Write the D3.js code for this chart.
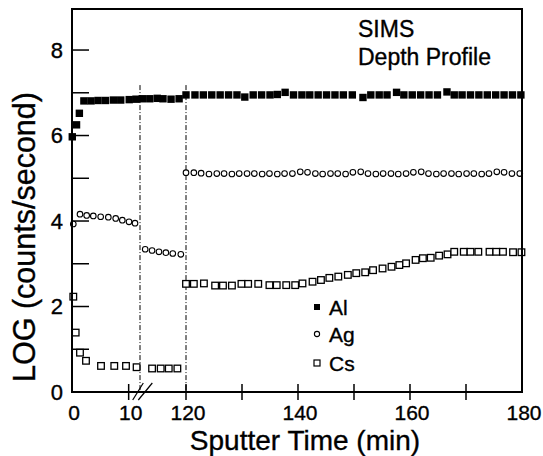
<!DOCTYPE html>
<html>
<head>
<meta charset="utf-8">
<script src="https://cdn.jsdelivr.net/npm/d3@7"></script>
<style>
  body { margin: 0; background: #fff; }
  svg { display: block; }
  text { font-family: "Liberation Sans", Arial, Helvetica, sans-serif; fill: #000; stroke: #000; stroke-width: 0.35px; }
</style>
</head>
<body>
<svg id="chart" width="543" height="456"></svg>
<script>
// SIMS depth profile: log10 of count rate vs sputter time (broken time axis)

// Al (filled squares)
const alTime = [0.05, 0.8, 1.3, 2.1, 3.35, 4.6, 5.9, 7.3, 8.6, 10.1, 11.3,
  112.4, 113.7, 115.0, 116.0, 117.4, 118.8,
  120.0, 121.6, 123.1, 124.6, 126.1, 127.6, 129.1, 130.5, 132.0, 133.5, 135.0,
  136.3, 137.7, 139.2, 140.7, 142.1, 143.6, 145.1, 146.6, 148.1, 149.7, 151.6,
  153.0, 154.5, 155.9, 157.6, 158.9, 160.4, 161.9, 163.4, 164.9, 166.6, 167.9,
  169.3, 170.8, 172.3, 173.8, 175.3, 176.8, 178.3, 179.8];
const alLog = [5.97, 6.25, 6.52, 6.81, 6.81, 6.82, 6.82, 6.83, 6.83, 6.84, 6.85,
  6.86, 6.86, 6.87, 6.86, 6.85, 6.86,
  6.95, 6.95, 6.95, 6.95, 6.95, 6.95, 6.95, 6.90, 6.95, 6.95, 6.95,
  6.96, 7.01, 6.95, 6.95, 6.95, 6.95, 6.95, 6.95, 6.95, 6.95, 6.89,
  6.95, 6.95, 6.95, 7.01, 6.95, 6.95, 6.95, 6.95, 6.95, 7.02, 6.95,
  6.95, 6.95, 6.95, 6.95, 6.95, 6.95, 6.95, 6.95];

// Ag (open circles)
const agTime = [0.23, 1.41, 2.59, 3.76, 5.06, 6.41, 7.71, 8.88, 10.06, 11.12,
  112.9, 114.1, 115.3, 116.5, 117.7, 119.1,
  120.0, 121.4, 122.7, 124.1, 125.5, 126.8, 128.2, 129.5, 130.9, 132.2, 133.6,
  134.9, 136.3, 137.6, 139.0, 140.4, 141.7, 143.1, 144.4, 145.8, 147.1, 148.5,
  149.8, 151.2, 152.5, 153.9, 155.2, 156.6, 157.9, 159.3, 160.6, 162.0, 163.3,
  164.7, 166.0, 167.4, 168.7, 170.1, 171.4, 172.8, 174.1, 175.5, 176.8, 178.2, 179.6];
const agLog = [3.93, 4.16, 4.13, 4.12, 4.10, 4.09, 4.06, 4.02, 3.98, 3.95,
  3.34, 3.31, 3.28, 3.26, 3.24, 3.22,
  5.13, 5.13, 5.12, 5.10, 5.11, 5.11, 5.10, 5.11, 5.11, 5.11, 5.10,
  5.11, 5.10, 5.11, 5.11, 5.15, 5.14, 5.11, 5.10, 5.11, 5.11, 5.10,
  5.14, 5.15, 5.11, 5.10, 5.11, 5.11, 5.10, 5.11, 5.14, 5.15, 5.11,
  5.10, 5.11, 5.11, 5.10, 5.11, 5.11, 5.10, 5.11, 5.15, 5.14, 5.11, 5.11];

// Cs (open squares)
const csTime = [0.23, 0.65, 1.41, 2.47, 5.12, 7.46, 9.53, 11.4,
  114.1, 115.6, 117.0, 118.5,
  120.0, 121.4, 123.2, 125.2, 126.6, 128.2, 129.9, 131.1, 132.9, 134.9, 136.2,
  137.9, 139.5, 140.8, 142.6, 144.1, 145.6, 147.2, 148.9, 150.4, 152.0, 153.4,
  155.1, 156.7, 158.1, 159.3, 161.0, 162.3, 163.7, 165.2, 166.7, 167.9, 169.6,
  170.8, 172.2, 174.2, 175.4, 176.6, 178.4, 179.9];
const csLog = [2.23, 1.39, 0.92, 0.73, 0.61, 0.61, 0.61, 0.58,
  0.55, 0.55, 0.55, 0.55,
  2.53, 2.53, 2.54, 2.49, 2.49, 2.49, 2.53, 2.53, 2.53, 2.50, 2.50,
  2.50, 2.50, 2.54, 2.58, 2.62, 2.67, 2.70, 2.74, 2.78, 2.80, 2.85,
  2.89, 2.93, 2.97, 3.01, 3.09, 3.13, 3.14, 3.19, 3.22, 3.28, 3.28,
  3.28, 3.28, 3.28, 3.28, 3.28, 3.27, 3.27];

const xTicks = [0, 10, 120, 130, 140, 150, 160, 170];
const xLabelValues = [0, 10, 120, 140, 160, 180];
const yTicks = [1, 2, 3, 4, 5, 6, 7, 8];
const yLabelValues = [0, 2, 4, 6, 8];
const breakTimes = [12, 120];   // dashed markers: axis break and 120 min
const legendNames = ["Al", "Ag", "Cs"];
const titleLines = ["SIMS", "Depth Profile"];

const svg = d3.select("#chart");
const plotL = 72, plotR = 522, plotT = 9, plotB = 392;

// piecewise time scale: 0–12 min, break, 112–180 min
const x = d3.scaleLinear()
  .domain([0, 12, 112, 120, 180])
  .range([plotL, 140, 140, plotR - 336, plotR]);
const y = d3.scaleLinear().domain([0, 8.96]).range([plotB, plotT]);

// dashed guide lines
svg.append("g").selectAll("line").data(breakTimes).join("line")
  .attr("x1", d => x(d)).attr("x2", d => x(d))
  .attr("y1", y(7.18)).attr("y2", plotB)
  .attr("stroke", "#000").attr("stroke-width", 1)
  .attr("stroke-dasharray", "5,2,1,2");

// y ticks (inside)
svg.append("g").selectAll("line").data(yTicks).join("line")
  .attr("x1", plotL).attr("x2", plotL + 17)
  .attr("y1", d => y(d)).attr("y2", d => y(d))
  .attr("stroke", "#000").attr("stroke-width", 1.5);

svg.append("g").selectAll("text").data(yLabelValues).join("text")
  .attr("x", 63).attr("y", d => y(d) + 7.5)
  .attr("text-anchor", "end").attr("font-size", 22)
  .text(d => d);

// x ticks (crossing the axis)
svg.append("g").selectAll("line").data(xTicks).join("line")
  .attr("x1", d => x(d)).attr("x2", d => x(d))
  .attr("y1", d => d === 0 ? plotB : plotB - 8).attr("y2", d => d === 0 ? plotB : plotB + 8)
  .attr("stroke", "#000").attr("stroke-width", 1.5);

svg.append("g").selectAll("text").data(xLabelValues).join("text")
  .attr("x", d => x(d) + 2).attr("y", 420)
  .attr("text-anchor", "middle").attr("font-size", 21)
  .text(d => d);

// axis break slashes
const slash = [[132.7, 400, 143.3, 383], [138.3, 400, 152.3, 383]];
svg.append("g").selectAll("line").data(slash).join("line")
  .attr("x1", d => d[0]).attr("y1", d => d[1])
  .attr("x2", d => d[2]).attr("y2", d => d[3])
  .attr("stroke", "#000").attr("stroke-width", 1.2);

// data markers
const cs = csTime.map((t, i) => [t, csLog[i]]);
const ag = agTime.map((t, i) => [t, agLog[i]]);
const al = alTime.map((t, i) => [t, alLog[i]]);

svg.append("g").selectAll("rect").data(cs).join("rect")
  .attr("x", d => x(d[0]) - 3.3).attr("y", d => y(d[1]) - 3.3)
  .attr("width", 6.6).attr("height", 6.6)
  .attr("fill", "#fff").attr("stroke", "#000").attr("stroke-width", 1.3);

svg.append("g").selectAll("circle").data(ag).join("circle")
  .attr("cx", d => x(d[0])).attr("cy", d => y(d[1])).attr("r", 2.8)
  .attr("fill", "#fff").attr("stroke", "#000").attr("stroke-width", 1.1);

svg.append("g").selectAll("rect").data(al).join("rect")
  .attr("x", d => x(d[0]) - 3.7).attr("y", d => y(d[1]) - 3.7)
  .attr("width", 7.4).attr("height", 7.4)
  .attr("fill", "#000");

// frame
svg.append("rect")
  .attr("x", plotL).attr("y", plotT)
  .attr("width", plotR - plotL).attr("height", plotB - plotT)
  .attr("fill", "none").attr("stroke", "#000").attr("stroke-width", 2);

// legend
const legY = [307, 334, 363];
const leg = svg.append("g");
leg.append("rect").attr("x", 314).attr("y", legY[0] - 3).attr("width", 6).attr("height", 6).attr("fill", "#000");
leg.append("circle").attr("cx", 317).attr("cy", legY[1]).attr("r", 2.6)
  .attr("fill", "#fff").attr("stroke", "#000").attr("stroke-width", 1.1);
leg.append("rect").attr("x", 314).attr("y", legY[2] - 3).attr("width", 6).attr("height", 6)
  .attr("fill", "#fff").attr("stroke", "#000").attr("stroke-width", 1.2);
leg.selectAll("text").data(legendNames).join("text")
  .attr("x", 329).attr("y", (d, i) => legY[i] + 8)
  .attr("font-size", 21).text(d => d);

// title block
svg.append("g").selectAll("text").data(titleLines).join("text")
  .attr("x", 358).attr("y", (d, i) => 37 + i * 28)
  .attr("font-size", 23).text(d => d);

// axis titles
svg.append("text")
  .attr("x", 305).attr("y", 450)
  .attr("text-anchor", "middle").attr("font-size", 28)
  .text("Sputter Time (min)");

svg.append("text")
  .attr("transform", "translate(35,237) rotate(-90)")
  .attr("text-anchor", "middle").attr("font-size", 30.5)
  .text("LOG (counts/second)");
</script>
</body>
</html>
